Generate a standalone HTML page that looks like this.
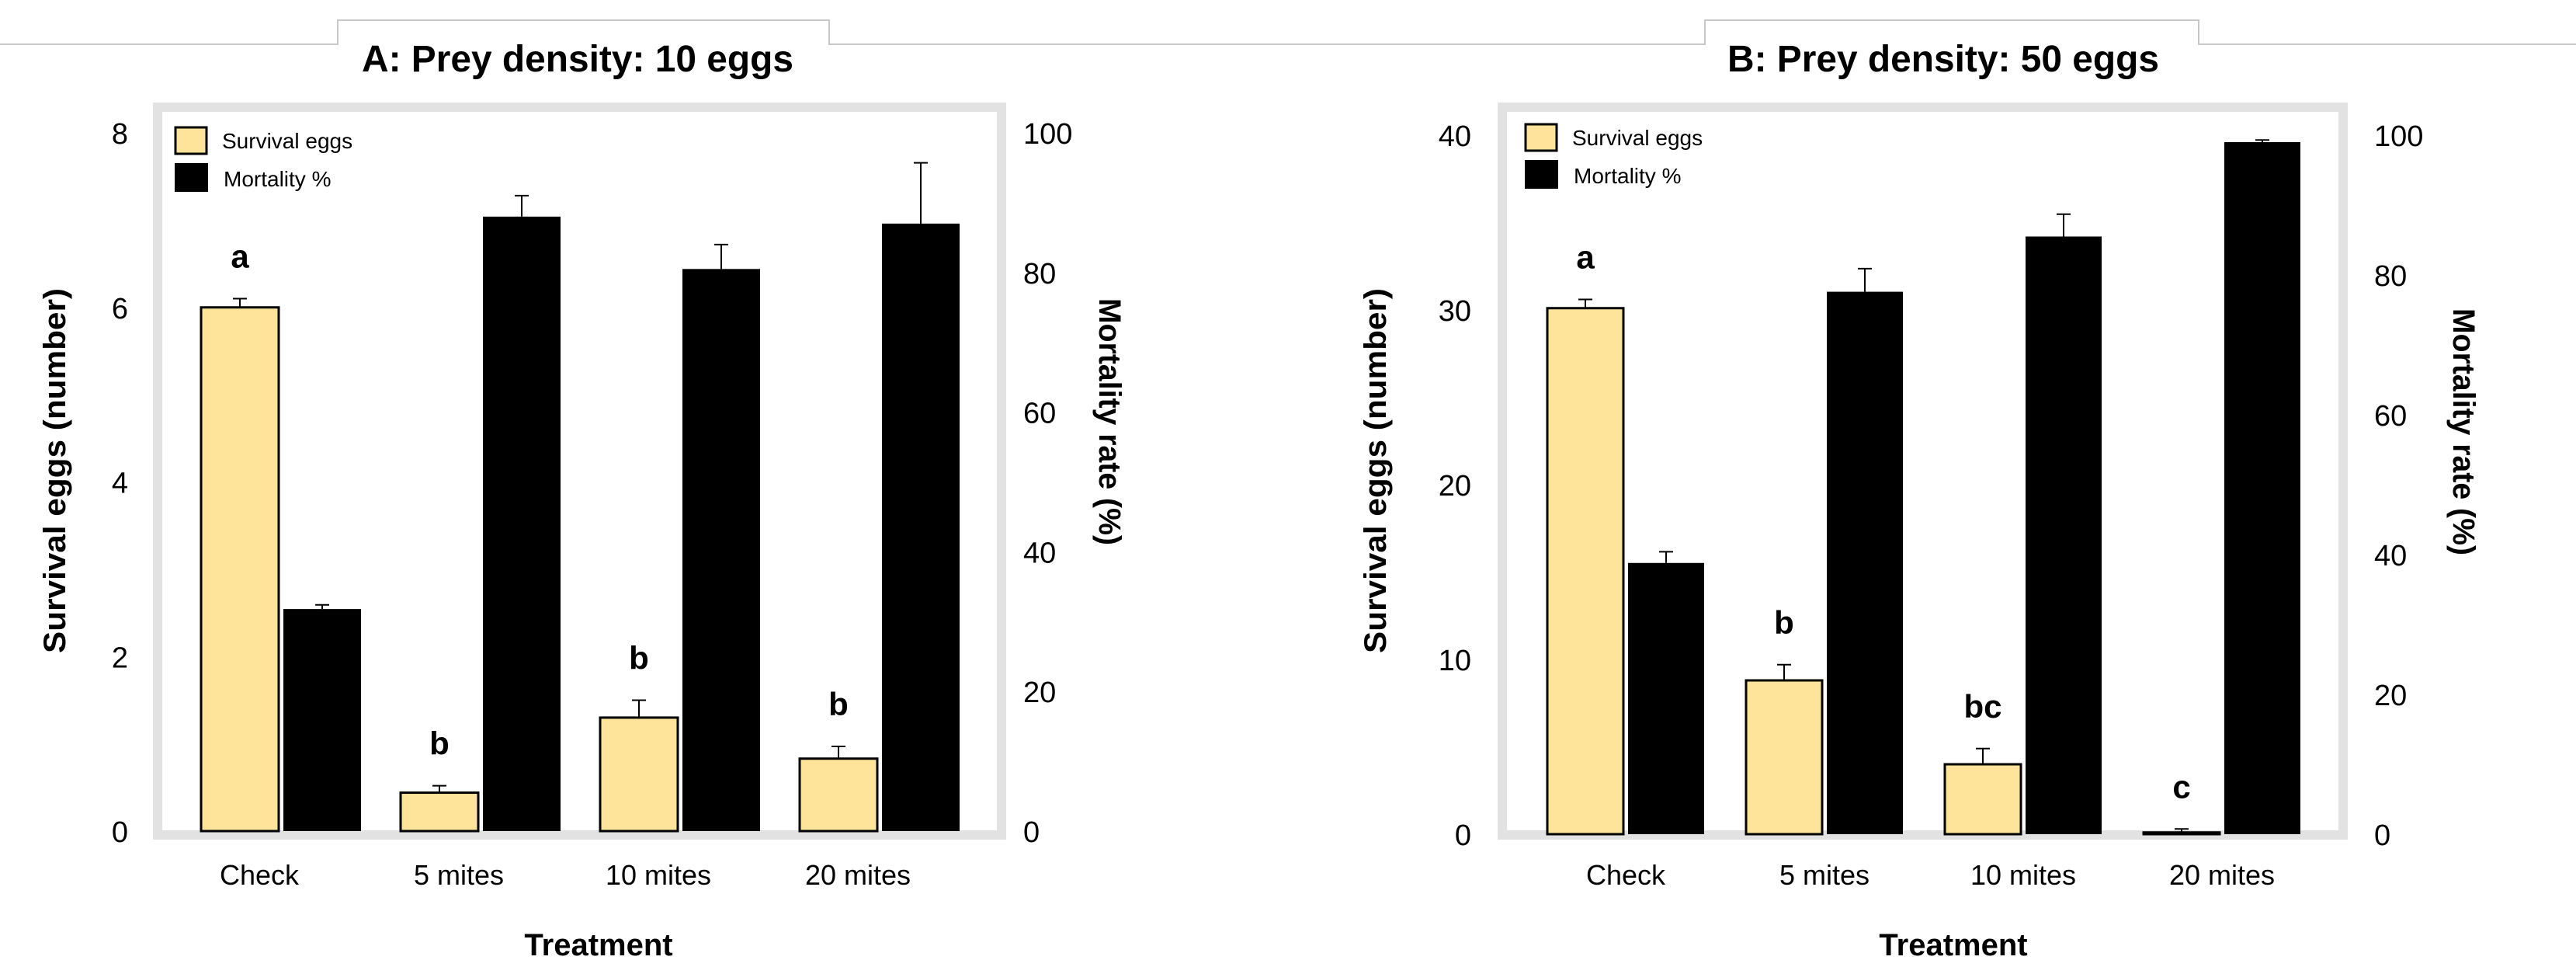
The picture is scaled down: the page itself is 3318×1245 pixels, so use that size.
<!DOCTYPE html>
<html><head><meta charset="utf-8"><style>
html,body{margin:0;padding:0;background:#fff;overflow:hidden;}
svg{display:block;font-family:"Liberation Sans",sans-serif;}
</style></head><body>
<svg id="chart" width="3318" height="1245" viewBox="0 0 3318 1245" xmlns="http://www.w3.org/2000/svg">
<path d="M0 57 H435 V26 H1068 V57 H2196 V26 H2832 V57 H3318" fill="none" stroke="#c8c8c8" stroke-width="2"/>
<g id="pA"></g>
<g id="pB"></g>
</svg>
<script>
const categories = ["Check", "5 mites", "10 mites", "20 mites"];
const survivalA = [6.0, 0.44, 1.3, 0.83];
const survivalErrA = [0.1, 0.08, 0.2, 0.14];
const mortalityA = [31.8, 88, 80.5, 87];
const mortalityErrA = [0.6, 3, 3.5, 8.7];
const lettersA = ["a", "b", "b", "b"];
const leftTicksA = [0, 2, 4, 6, 8];
const survivalB = [30.1, 8.8, 4.0, 0.1];
const survivalErrB = [0.5, 0.9, 0.9, 0.2];
const mortalityB = [38.8, 77.6, 85.5, 99];
const mortalityErrB = [1.6, 3.3, 3.2, 0.3];
const lettersB = ["a", "b", "bc", "c"];
const leftTicksB = [0, 10, 20, 30, 40];
const rightTicks = [0, 20, 40, 60, 80, 100];

const NS = "http://www.w3.org/2000/svg";
function mk(parent, tag, attrs, text) {
  const e = document.createElementNS(NS, tag);
  for (const k in attrs) e.setAttribute(k, attrs[k]);
  if (text !== undefined) e.textContent = text;
  parent.appendChild(e);
  return e;
}

function drawPanel(g, o) {
  const yL = v => o.base - v / o.leftMax * (o.base - o.top);
  const yR = v => o.base - v / 100 * (o.base - o.top);
  const cx = i => o.c0 + i * o.step;
  let e;
  e = mk(g, "rect", {x: o.fx, y: 138, width: o.fw, height: 937, fill: "none", stroke: "#e2e2e2", "stroke-width": 12});
  
  
  e = mk(g, "text", {x: o.titleX, y: 92, "text-anchor": "middle", "font-size": 48, "font-weight": "bold", textLength: 556, lengthAdjust: "spacingAndGlyphs"}, o.title);
  
  
  o.leftTicks.forEach(t => {
    e = mk(g, "text", {x: o.lTickX, y: yL(t) + 14, "text-anchor": "end", "font-size": 38}, t);
    
    
  });
  rightTicks.forEach(t => {
    e = mk(g, "text", {x: o.rTickX, y: yR(t) + 14, "text-anchor": "start", "font-size": 38}, t);
    
    
  });
  categories.forEach((c, i) => {
    const w = o.bw, c0 = cx(i);
    const ys = yL(o.surv[i]);
    e = mk(g, "rect", {x: c0 - 3 - w, y: ys, width: w, height: o.base - ys, fill: "#fde49a", stroke: "#000", "stroke-width": 3});
    
    
    const ye = yL(o.surv[i] + o.survErr[i]);
    const sx = c0 - 3 - w / 2;
    e = mk(g, "path", {d: `M${sx} ${ys} V${ye} M${sx - 9} ${ye} H${sx + 9}`, stroke: "#000", "stroke-width": 2, fill: "none"});
    
    
    e = mk(g, "text", {x: sx, y: ye - 40, "text-anchor": "middle", "font-size": 42, "font-weight": "bold"}, o.letters[i]);
    
    
    const ym = yR(o.mort[i]);
    e = mk(g, "rect", {x: c0 + 3, y: ym, width: w, height: o.base - ym, fill: "#000"});
    
    
    const yme = yR(o.mort[i] + o.mortErr[i]);
    const mx = c0 + 3 + w / 2;
    e = mk(g, "path", {d: `M${mx} ${ym} V${yme} M${mx - 9} ${yme} H${mx + 9}`, stroke: "#000", "stroke-width": 2, fill: "none"});
    
    
    e = mk(g, "text", {x: c0 + o.labOff, y: 1139, "text-anchor": "middle", "font-size": 36}, c);
    
    
  });
  e = mk(g, "text", {x: o.treatX, y: 1230, "text-anchor": "middle", "font-size": 40, "font-weight": "bold"}, "Treatment");
  
  
  e = mk(g, "text", {transform: `translate(${o.lTitleX},606) rotate(-90)`, "text-anchor": "middle", "font-size": 40, "font-weight": "bold", textLength: 470, lengthAdjust: "spacingAndGlyphs"}, "Survival eggs  (number)");
  
  
  e = mk(g, "text", {transform: `translate(${o.rTitleX},${o.rTitleY}) rotate(90)`, "text-anchor": "middle", "font-size": 40, "font-weight": "bold", textLength: 318, lengthAdjust: "spacingAndGlyphs"}, "Mortality rate (%)");
  
  
  e = mk(g, "rect", {x: o.legX, y: o.legY, width: 40, height: 34, fill: "#fde49a", stroke: "#000", "stroke-width": 3});
  
  
  e = mk(g, "text", {x: o.legX + 60, y: o.legY + 27, "font-size": 28}, "Survival eggs");
  
  
  e = mk(g, "rect", {x: o.legX - 1, y: o.legY + 46, width: 43, height: 37, fill: "#000"});
  
  
  e = mk(g, "text", {x: o.legX + 62, y: o.legY + 76, "font-size": 28}, "Mortality %");
  
  
}

drawPanel(document.getElementById("pA"), {
  base: 1070, top: 171, leftMax: 8, c0: 362, step: 257, bw: 100,
  surv: survivalA, survErr: survivalErrA, mort: mortalityA, mortErr: mortalityErrA, letters: lettersA, leftTicks: leftTicksA,
  fx: 203, fw: 1087, title: "A: Prey density: 10 eggs", titleX: 744,
  lTickX: 165, rTickX: 1318, labOff: -28, treatX: 771, lTitleX: 84, rTitleX: 1416, rTitleY: 543, legX: 226, legY: 164
});
drawPanel(document.getElementById("pB"), {
  base: 1074, top: 174, leftMax: 40, c0: 2094, step: 256, bw: 98,
  surv: survivalB, survErr: survivalErrB, mort: mortalityB, mortErr: mortalityErrB, letters: lettersB, leftTicks: leftTicksB,
  fx: 1935, fw: 1083, title: "B: Prey density: 50 eggs", titleX: 2503,
  lTickX: 1895, rTickX: 3058, labOff: 0, treatX: 2516, lTitleX: 1785, rTitleX: 3160, rTitleY: 556, legX: 1965, legY: 160
});
</script>
</body></html>
